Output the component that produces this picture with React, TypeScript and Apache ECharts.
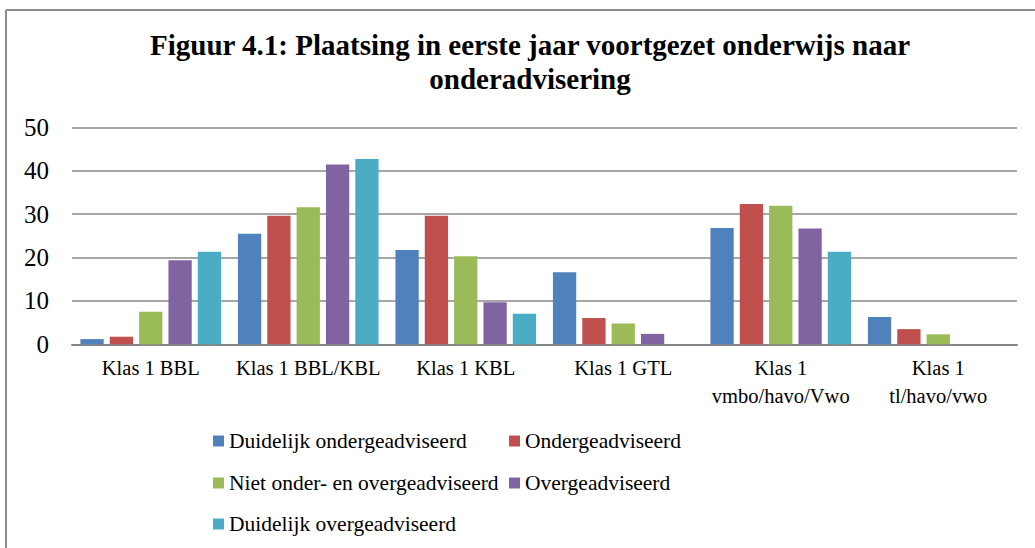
import React, { useEffect, useRef } from "react";
import * as echarts from "echarts";

const categories = [
  "Klas 1 BBL",
  "Klas 1 BBL/KBL",
  "Klas 1 KBL",
  "Klas 1 GTL",
  "Klas 1\nvmbo/havo/Vwo",
  "Klas 1\ntl/havo/vwo",
];

const seriesNames = [
  "Duidelijk ondergeadviseerd",
  "Ondergeadviseerd",
  "Niet onder- en overgeadviseerd",
  "Overgeadviseerd",
  "Duidelijk overgeadviseerd",
];

const duidelijkOnder = [1.2, 25.5, 21.7, 16.6, 26.8, 6.3];
const onder = [1.75, 29.6, 29.6, 6.05, 32.3, 3.5];
const nietOnderOver = [7.5, 31.6, 20.3, 4.8, 31.9, 2.3];
const over = [19.35, 41.4, 9.7, 2.4, 26.7, 0];
const duidelijkOver = [21.3, 42.7, 7.05, 0, 21.3, 0];

const seriesValues = [duidelijkOnder, onder, nietOnderOver, over, duidelijkOver];
const colors = ["#4F81BD", "#C0504D", "#9BBB59", "#8064A2", "#4BACC6"];

const titleLines = [
  "Figuur 4.1: Plaatsing in eerste jaar voortgezet onderwijs naar",
  "onderadvisering",
];

const FONT = "'Liberation Serif', 'Times New Roman', serif";

export default function App() {
  const ref = useRef<HTMLDivElement>(null);
  useEffect(() => {
    if (!ref.current) return;
    const chart = echarts.init(ref.current, null, { renderer: "svg" });
    const legendPos = [
      { left: 213, top: 430 },
      { left: 509, top: 430 },
      { left: 213, top: 472 },
      { left: 509, top: 472 },
      { left: 213, top: 513 },
    ];
    chart.setOption({
      animation: false,
      backgroundColor: "#ffffff",
      color: colors,
      graphic: [
        {
          type: "line",
          shape: { x1: 6, y1: 10, x2: 1035, y2: 10 },
          style: { stroke: "#8c8c8c", lineWidth: 2 },
        },
        {
          type: "line",
          shape: { x1: 6, y1: 10, x2: 6, y2: 548 },
          style: { stroke: "#8c8c8c", lineWidth: 2 },
        },
        ...titleLines.map((t, i) => ({
          type: "text",
          x: 530,
          y: 45 + i * 34,
          style: {
            text: t,
            textAlign: "center",
            textVerticalAlign: "middle",
            font: `bold 29px ${FONT}`,
            fill: "#000000",
          },
        })),
      ],
      legend: seriesNames.map((n, i) => ({
        data: [n],
        left: legendPos[i].left,
        top: legendPos[i].top,
        padding: 0,
        itemWidth: 11,
        itemHeight: 11,
        itemGap: 5,
        icon: "rect",
        selectedMode: false,
        textStyle: {
          fontFamily: FONT,
          fontSize: 21.5,
          color: "#000000",
          lineHeight: 22,
          padding: [0, 0, 0, 0],
        },
      })),
      grid: {
        left: 72,
        right: 18,
        top: 127.3,
        bottom: 203.7,
        containLabel: false,
      },
      xAxis: {
        type: "category",
        data: categories,
        axisLine: { lineStyle: { color: "#868686", width: 2 } },
        axisTick: { show: false },
        axisLabel: {
          fontFamily: FONT,
          fontSize: 20.5,
          color: "#000000",
          lineHeight: 28,
          margin: 10,
          interval: 0,
        },
      },
      yAxis: {
        type: "value",
        min: 0,
        max: 50,
        interval: 10,
        axisLine: { show: false },
        axisTick: { show: false },
        splitLine: { lineStyle: { color: "#8a8a8a", width: 1.5 } },
        axisLabel: {
          fontFamily: FONT,
          fontSize: 25,
          color: "#000000",
          margin: 23,
        },
      },
      series: seriesNames.map((n, i) => ({
        name: n,
        type: "bar",
        data: seriesValues[i],
        barGap: "26%",
        barCategoryGap: "10.7%",
        itemStyle: {
          color: colors[i],
          borderWidth: 0,
        },
      })),
    });
    return () => chart.dispose();
  }, []);
  return (
    <div
      ref={ref}
      style={{ position: "absolute", left: 0, top: 0, width: 1035, height: 548 }}
    />
  );
}
